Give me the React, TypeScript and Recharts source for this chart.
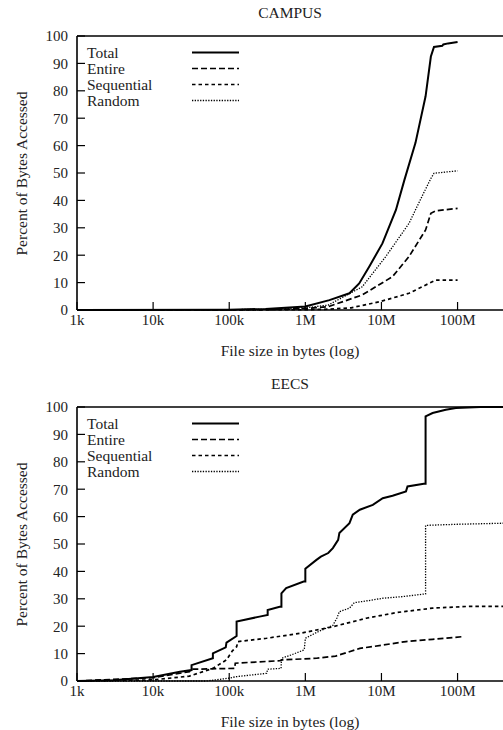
import React from 'react';
import { LineChart, Line, XAxis, YAxis } from 'recharts';

// file size ticks (bytes) and their labels
const sizeTicks = [1e3, 1e4, 1e5, 1e6, 1e7, 1e8];
const sizeLabels = ['1k', '10k', '100k', '1M', '10M', '100M'];
const percentTicks = [0, 10, 20, 30, 40, 50, 60, 70, 80, 90, 100];
const sizeDomain = [1e3, 4.2e8];

const seriesNames = ['Total', 'Entire', 'Sequential', 'Random'];

// [file size in bytes, cumulative percent of bytes accessed]
const campusTotal = [
  [1e3, 0], [1e5, 0.1], [3e5, 0.4], [1e6, 1.3], [2.07e6, 3.6], [3.8e6, 6.1], [5.1e6, 9.7],
  [6.9e6, 15.8], [1.03e7, 24.3], [1.55e7, 36.5], [2e7, 47.4], [2.8e7, 61], [3.8e7, 78],
  [4.46e7, 92.5], [4.9e7, 96], [6.3e7, 96.4], [6.5e7, 96.9], [7.5e7, 97.3], [1e8, 97.8],
];
const campusEntire = [
  [1e3, 0], [3e5, 0.1], [1e6, 0.5], [2e6, 1.2], [5.6e6, 5.5], [1.4e7, 12.2], [2.3e7, 19.5],
  [3.8e7, 29.2], [4.46e7, 35.3], [5.2e7, 36.2], [1e8, 37.1],
];
const campusSequential = [
  [1e3, 0], [1e6, 0.1], [2e6, 0.3], [4e6, 0.8], [9.4e6, 3], [2.3e7, 6.1], [4.2e7, 9.7],
  [5.2e7, 10.9], [1e8, 10.9],
];
const campusRandom = [
  [1e3, 0], [3e5, 0.2], [1e6, 0.8], [2e6, 1.8], [5.6e6, 8.5], [1.14e7, 19.5], [2.3e7, 31.6],
  [3.4e7, 41.4], [4.46e7, 48], [4.9e7, 49.9], [1e8, 50.8],
];

const eecsTotal = [
  [1e3, 0], [3e3, 0.3], [1e4, 1.5], [2.25e4, 3.4], [3.2e4, 4], [3.2e4, 5.8], [6.1e4, 8.3],
  [6.1e4, 10.1], [9e4, 12.3], [9.2e4, 14], [1.25e5, 16.4], [1.25e5, 21.7], [2.5e5, 23.5],
  [3.2e5, 24.1], [3.2e5, 25.9], [4.6e5, 27.1], [4.85e5, 27.1], [4.85e5, 32], [5.6e5, 33.9],
  [9.5e5, 36.3], [1e6, 36.3], [1e6, 41], [1.4e6, 44.2], [1.6e6, 45.4], [2e6, 46.7],
  [2.3e6, 48.5], [2.7e6, 51.5], [2.8e6, 54], [3.8e6, 57.6], [4.2e6, 60.7], [5.2e6, 62.5],
  [7.7e6, 64.3], [1.04e7, 66.7], [1.4e7, 67.6], [2.1e7, 69.2], [2.2e7, 71], [3.6e7, 72],
  [3.8e7, 72], [3.8e7, 96.6], [4.7e7, 97.8], [7e7, 99], [9.5e7, 99.6], [2e8, 100], [4.2e8, 100],
];
const eecsEntire = [
  [1e3, 0], [1e4, 1.2], [3e4, 3.4], [3.2e4, 4.3], [1.18e5, 4.6], [1.2e5, 6.5], [4.6e5, 7.4],
  [5e5, 7.7], [1.4e6, 8.3], [2.5e6, 9.1], [5.2e6, 11.9], [1.04e7, 13.1], [2.1e7, 14.4],
  [4.7e7, 15.2], [1.17e8, 16.2],
];
const eecsSequential = [
  [1e3, 0], [1e4, 0.4], [3e4, 1.8], [6.1e4, 4.6], [9.2e4, 7.7], [1.1e5, 11], [1.25e5, 12.5],
  [1.3e5, 14.4], [3.1e5, 15.6], [8.5e5, 17.4], [2.3e6, 19.8], [6.3e6, 22.9], [1.6e7, 25],
  [4.7e7, 26.6], [1.3e8, 27.2], [4.2e8, 27.2],
];
const eecsRandom = [
  [1e3, 0], [5e4, 0], [9.7e4, 1], [1.25e5, 1.6], [3.1e5, 2.8], [3.2e5, 4.3], [4.8e5, 4.6],
  [4.85e5, 8.3], [6.5e5, 9.5], [9.3e5, 11.2], [9.7e5, 11.6], [1e6, 15.6], [1.55e6, 18.3],
  [2.3e6, 20.3], [2.6e6, 23], [2.8e6, 25.3], [3.8e6, 26.6], [4.4e6, 28.6], [6.3e6, 29.2],
  [1.04e7, 30.2], [1.9e7, 30.8], [3.8e7, 31.8], [3.8e7, 56.8], [1e8, 57.2], [4.2e8, 57.6],
];

const FONT = '"Liberation Serif", "Times New Roman", serif';

// line styles: solid, dashed, short dash, dotted
const styles = [
  { width: 2, dash: undefined },
  { width: 1.7, dash: '6 3' },
  { width: 1.7, dash: '3.5 3' },
  { width: 1.3, dash: '1.3 1.4' },
];

const toPoints = (rows: number[][]) => rows.map(([x, y]) => ({ x, y }));

const fmtSize = (v: number) => sizeLabels[sizeTicks.indexOf(v)] ?? '';

interface PanelProps {
  title: string;
  top: number;
  series: number[][][];
}

const Panel: React.FC<PanelProps> = ({ title, top, series }) => {
  const legendRows = [52.5, 68.5, 84.5, 100.5];
  return (
    <div style={{ position: 'absolute', left: 0, top, width: 503, height: 365, overflow: 'hidden' }}>
      <LineChart
        width={506}
        height={332}
        margin={{ top: 0, right: 0, bottom: 0, left: 0 }}
        style={{ fontFamily: FONT }}
      >
        <XAxis
          xAxisId="bottom"
          dataKey="x"
          type="number"
          scale="log"
          domain={sizeDomain}
          allowDataOverflow
          ticks={sizeTicks}
          tickFormatter={fmtSize}
          height={22}
          tickSize={-8}
          tickMargin={12}
          axisLine={{ stroke: '#000', strokeWidth: 1.6 }}
          tickLine={{ stroke: '#000', strokeWidth: 1.2 }}
          tick={{ fill: '#222', fontSize: 15, fontFamily: FONT }}
        />
        <XAxis
          xAxisId="top"
          orientation="top"
          dataKey="x"
          type="number"
          scale="log"
          domain={sizeDomain}
          allowDataOverflow
          ticks={sizeTicks}
          height={36}
          tickSize={-8}
          tick={false}
          axisLine={{ stroke: '#000', strokeWidth: 1.6 }}
          tickLine={{ stroke: '#000', strokeWidth: 1.2 }}
        />
        <YAxis
          yAxisId="left"
          type="number"
          domain={[0, 100]}
          ticks={percentTicks}
          width={77}
          tickSize={-8}
          tickMargin={17}
          axisLine={{ stroke: '#000', strokeWidth: 1.6 }}
          tickLine={{ stroke: '#000', strokeWidth: 1.2 }}
          tick={{ fill: '#222', fontSize: 15, fontFamily: FONT }}
        />
        <YAxis
          yAxisId="right"
          orientation="right"
          type="number"
          domain={[0, 100]}
          ticks={percentTicks}
          width={1}
          tickSize={-8}
          tick={false}
          axisLine={{ stroke: '#000', strokeWidth: 1.6 }}
          tickLine={{ stroke: '#000', strokeWidth: 1.2 }}
        />
        {series.map((rows, i) => (
          <Line
            key={seriesNames[i]}
            xAxisId="bottom"
            yAxisId="left"
            data={toPoints(rows)}
            dataKey="y"
            type="linear"
            stroke="#000"
            strokeWidth={styles[i].width}
            strokeDasharray={styles[i].dash}
            dot={false}
            activeDot={false}
            isAnimationActive={false}
          />
        ))}
      </LineChart>
      <svg
        width={503}
        height={365}
        style={{ position: 'absolute', left: 0, top: 0, pointerEvents: 'none', fontFamily: FONT }}
      >
        <text x={290} y={18.3} textAnchor="middle" fontSize={15.5} fill="#222">
          {title}
        </text>
        <text x={290} y={356} textAnchor="middle" fontSize={15.5} fill="#222">
          File size in bytes (log)
        </text>
        <text
          x={26.5}
          y={173.5}
          textAnchor="middle"
          fontSize={15.5}
          fill="#222"
          transform="rotate(-90 26.5 173.5)"
        >
          Percent of Bytes Accessed
        </text>
        {seriesNames.map((name, i) => (
          <g key={name}>
            <text x={87} y={legendRows[i] + 5} fontSize={15.5} fill="#222">
              {name}
            </text>
            <line
              x1={192}
              x2={239}
              y1={legendRows[i]}
              y2={legendRows[i]}
              stroke="#000"
              strokeWidth={styles[i].width}
              strokeDasharray={styles[i].dash}
            />
          </g>
        ))}
      </svg>
    </div>
  );
};

export default function App() {
  return (
    <div style={{ position: 'absolute', left: 0, top: 0, width: 503, height: 730, background: '#fff' }}>
      <Panel title="CAMPUS" top={0} series={[campusTotal, campusEntire, campusSequential, campusRandom]} />
      <Panel title="EECS" top={371} series={[eecsTotal, eecsEntire, eecsSequential, eecsRandom]} />
    </div>
  );
}
